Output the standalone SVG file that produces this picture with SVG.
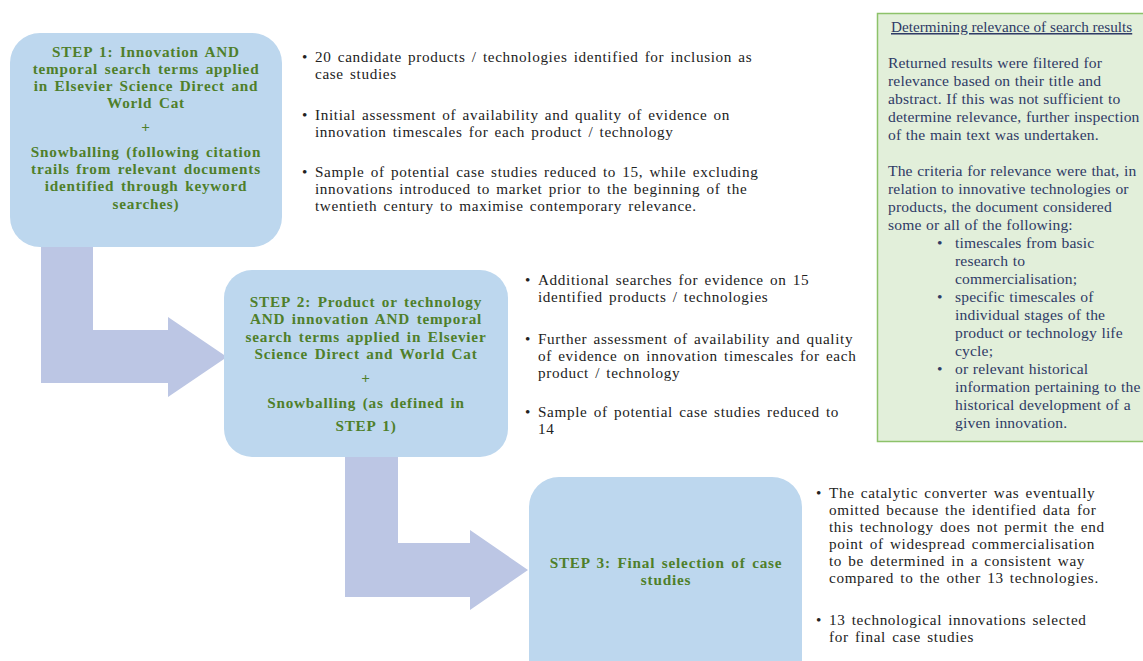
<svg xmlns="http://www.w3.org/2000/svg" width="1143" height="661" viewBox="0 0 1143 661">
  <style>
    .step { fill: #bdd7ee; }
    .flow { fill: #bcc6e4; }
    .head { font-family: "Liberation Serif", serif; font-weight: bold; font-size: 15.2px; letter-spacing: 0.8px; word-spacing: 2px; fill: #4f7f2a; text-anchor: middle; }
    .body { font-family: "Liberation Serif", serif; font-size: 15.2px; letter-spacing: 0.65px; word-spacing: 1.8px; fill: #222222; }
    .note { font-family: "Liberation Serif", serif; font-size: 15.6px; letter-spacing: 0.15px; word-spacing: 0.5px; fill: #2f3b66; }
    .title { font-size: 15.2px; letter-spacing: 0; word-spacing: 0; text-decoration: underline; }
  </style>
  <rect width="1143" height="661" fill="#ffffff"/>

  <!-- connectors: bent block arrows between steps -->
  <g id="connectors">
    <path class="flow" d="M41,240 L93,240 L93,330 L168,330 L168,317 L227,357 L168,397 L168,383 L41,383 Z"/>
    <path class="flow" d="M345,452 L398,452 L398,543 L470,543 L470,530 L528,570 L470,610 L470,597 L345,597 Z"/>
  </g>

  <!-- step 1 -->
  <g id="step1">
    <rect class="step" x="10" y="33" width="272" height="214" rx="30"/>
    <text class="head" x="146" y="57">STEP 1: Innovation AND</text>
    <text class="head" x="146" y="74">temporal search terms applied</text>
    <text class="head" x="146" y="91">in Elsevier Science Direct and</text>
    <text class="head" x="146" y="108">World Cat</text>
    <text class="head" x="146" y="132">+</text>
    <text class="head" x="146" y="157">Snowballing (following citation</text>
    <text class="head" x="146" y="174">trails from relevant documents</text>
    <text class="head" x="146" y="191">identified through keyword</text>
    <text class="head" x="146" y="209">searches)</text>
  </g>

  <g id="notes1" class="body">
    <text x="302" y="62">•</text>
    <text x="315" y="62">20 candidate products / technologies identified for inclusion as</text>
    <text x="315" y="79">case studies</text>
    <text x="302" y="120">•</text>
    <text x="315" y="120">Initial assessment of availability and quality of evidence on</text>
    <text x="315" y="137">innovation timescales for each product / technology</text>
    <text x="302" y="177">•</text>
    <text x="315" y="177">Sample of potential case studies reduced to 15, while excluding</text>
    <text x="315" y="194">innovations introduced to market prior to the beginning of the</text>
    <text x="315" y="211">twentieth century to maximise contemporary relevance.</text>
  </g>

  <!-- step 2 -->
  <g id="step2">
    <rect class="step" x="224" y="270" width="284" height="187" rx="28"/>
    <text class="head" x="366" y="307">STEP 2: Product or technology</text>
    <text class="head" x="366" y="324">AND innovation AND temporal</text>
    <text class="head" x="366" y="342">search terms applied in Elsevier</text>
    <text class="head" x="366" y="359">Science Direct and World Cat</text>
    <text class="head" x="366" y="383">+</text>
    <text class="head" x="366" y="408">Snowballing  (as defined in</text>
    <text class="head" x="366" y="431">STEP 1)</text>
  </g>

  <g id="notes2" class="body">
    <text x="525" y="285">•</text>
    <text x="538" y="285">Additional searches for evidence on 15</text>
    <text x="538" y="302">identified products / technologies</text>
    <text x="525" y="344">•</text>
    <text x="538" y="344">Further assessment of availability and quality</text>
    <text x="538" y="361">of evidence on innovation timescales for each</text>
    <text x="538" y="378">product / technology</text>
    <text x="525" y="417">•</text>
    <text x="538" y="417">Sample of potential case studies reduced to</text>
    <text x="538" y="434">14</text>
  </g>

  <!-- step 3 -->
  <g id="step3">
    <rect class="step" x="529" y="477" width="273" height="220" rx="30"/>
    <text class="head" x="666" y="568">STEP 3: Final selection of case</text>
    <text class="head" x="666" y="585">studies</text>
  </g>

  <g id="notes3" class="body">
    <text x="816" y="498">•</text>
    <text x="829" y="498">The catalytic converter was eventually</text>
    <text x="829" y="515">omitted because the identified data for</text>
    <text x="829" y="532">this technology does not permit the end</text>
    <text x="829" y="549">point of widespread commercialisation</text>
    <text x="829" y="566">to be determined in a consistent way</text>
    <text x="829" y="583">compared to the other 13 technologies.</text>
    <text x="816" y="625">•</text>
    <text x="829" y="625">13 technological innovations selected</text>
    <text x="829" y="642">for final case studies</text>
  </g>

  <!-- side panel: relevance criteria -->
  <g id="relevance">
    <rect x="877.5" y="13.5" width="280" height="428" fill="#e2efda" stroke="#8dc26a" stroke-width="1.5"/>
    <text class="note title" x="891" y="32">Determining relevance of search results</text>
    <text class="note" x="888" y="68">Returned results were filtered for</text>
    <text class="note" x="888" y="86">relevance based on their title and</text>
    <text class="note" x="888" y="104">abstract. If this was not sufficient to</text>
    <text class="note" x="888" y="122">determine relevance, further inspection</text>
    <text class="note" x="888" y="140">of the main text was undertaken.</text>
    <text class="note" x="888" y="176">The criteria for relevance were that, in</text>
    <text class="note" x="888" y="194">relation to innovative technologies or</text>
    <text class="note" x="888" y="212">products, the document considered</text>
    <text class="note" x="888" y="230">some or all of the following:</text>
    <text class="note" x="937" y="248">•</text>
    <text class="note" x="955" y="248">timescales from basic</text>
    <text class="note" x="955" y="266">research to</text>
    <text class="note" x="955" y="284">commercialisation;</text>
    <text class="note" x="937" y="302">•</text>
    <text class="note" x="955" y="302">specific timescales of</text>
    <text class="note" x="955" y="320">individual stages of the</text>
    <text class="note" x="955" y="338">product or technology life</text>
    <text class="note" x="955" y="356">cycle;</text>
    <text class="note" x="937" y="374">•</text>
    <text class="note" x="955" y="374">or relevant historical</text>
    <text class="note" x="955" y="392">information pertaining to the</text>
    <text class="note" x="955" y="410">historical development of a</text>
    <text class="note" x="955" y="428">given innovation.</text>
  </g>
</svg>
